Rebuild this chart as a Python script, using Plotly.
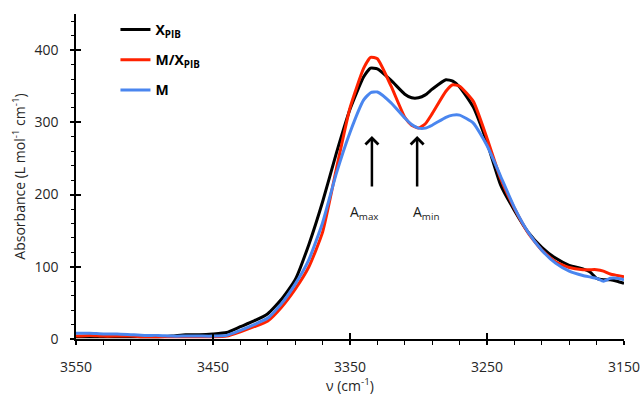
import plotly.graph_objects as go

# Wavenumber grid (cm^-1) and absorbance (L mol^-1 cm^-1) for each sample
wavenumber = [3550, 3540, 3530, 3520, 3510, 3500, 3490, 3480, 3470, 3460,
              3450, 3440, 3430, 3420, 3410, 3400, 3390, 3380, 3370, 3360,
              3350, 3340, 3335, 3330, 3320, 3310, 3305, 3300, 3295, 3290,
              3280, 3275, 3270, 3260, 3250, 3240, 3230, 3220, 3210, 3200,
              3190, 3180, 3175, 3170, 3165, 3160, 3155, 3150]

absorb_x_pib = [3, 3, 3, 3, 3, 3, 3, 4, 6, 6,
                7, 9, 17, 25, 35, 55, 82, 131, 190, 257,
                318, 363, 375, 374, 358, 339, 334, 334, 338, 346,
                359, 357, 349, 321, 272, 213, 178, 148, 127, 112,
                102, 97, 93, 84, 82, 82, 80, 77]

absorb_m_x_pib = [4, 5, 4, 4, 4, 3, 3, 3, 3, 3,
                  3, 4, 10, 17, 25, 44, 69, 100, 148, 235,
                  320, 375, 390, 388, 350, 307, 296, 292, 298, 312,
                  343, 352, 350, 329, 278, 222, 181, 147, 123, 107,
                  99, 96, 96, 96, 94, 90, 88, 86]

absorb_m = [8, 8, 7, 7, 6, 5, 5, 4, 4, 4,
            4, 5, 12, 20, 29, 49, 76, 110, 161, 229,
            286, 331, 341, 342, 327, 306, 297, 292, 292, 296,
            307, 310, 310, 299, 268, 225, 182, 148, 123, 105,
            94, 88, 86, 84, 80, 84, 84, 82]

x_ticks = [3550, 3450, 3350, 3250, 3150]
y_ticks = [0, 100, 200, 300, 400]

# Band positions marked with arrows
nu_amax = 3334
nu_amin = 3301

series = [
    ("<b>X<sub>PIB</sub></b>", absorb_x_pib, "#000000", "g1"),
    ("<b>M/X<sub>PIB</sub></b>", absorb_m_x_pib, "#ff2200", "g2"),
    ("<b>M</b>", absorb_m, "#4a86ef", "g3"),
]

fig = go.Figure()
for name, vals, color, grp in series:
    fig.add_trace(go.Scatter(
        x=wavenumber, y=vals, mode="lines", name=name, legendgroup=grp,
        line=dict(color=color, width=3, shape="spline", smoothing=0.5),
    ))

# empty trace so the overlay axes (inner half of the major ticks) get drawn
fig.add_trace(go.Scatter(x=[], y=[], xaxis="x2", yaxis="y2",
                         showlegend=False, hoverinfo="skip"))

text_color = "#262626"
tick_font = dict(family="Open Sans", size=14, color=text_color)
title_font = dict(family="Open Sans", size=14, color=text_color)

fig.update_layout(
    width=641, height=395,
    margin=dict(l=76, r=17, t=14, b=56),
    paper_bgcolor="white", plot_bgcolor="white",
    font=dict(family="Open Sans", color=text_color),
    showlegend=True,
    legend=dict(x=0.072, y=1.0, xanchor="left", yanchor="top",
                bgcolor="rgba(0,0,0,0)", tracegroupgap=9,
                font=dict(family="Open Sans", size=14, color="#000000")),
    xaxis=dict(
        range=[3550, 3150], tickvals=x_ticks, showgrid=False, zeroline=False,
        automargin=False,
        showline=True, linecolor="#000000", linewidth=1.5,
        ticks="outside", ticklen=4, tickwidth=1.5, tickcolor="#000000",
        minor=dict(dtick=20, tick0=3150, ticks="outside", ticklen=4,
                   tickwidth=1, tickcolor="#000000"),
        tickfont=tick_font, ticklabelstandoff=10,
        title=dict(text="\u03bd (cm<sup>-1</sup>)", font=title_font,
                   standoff=8),
    ),
    yaxis=dict(
        range=[0, 450], tickvals=y_ticks, showgrid=False, zeroline=False,
        automargin=False,
        showline=True, linecolor="#000000", linewidth=1.5,
        ticks="outside", ticklen=4, tickwidth=1.5, tickcolor="#000000",
        minor=dict(dtick=20, ticks="outside", ticklen=3,
                   tickwidth=1, tickcolor="#000000"),
        tickfont=tick_font, ticklabelstandoff=9,
        title=dict(text="Absorbance (L mol<sup>-1</sup> cm<sup>-1</sup>)",
                   font=title_font, standoff=6),
    ),
    xaxis2=dict(range=[3550, 3150], overlaying="x", anchor="y2",
                automargin=False,
                tickvals=x_ticks, showticklabels=False, showgrid=False,
                zeroline=False, showline=False, ticks="inside", ticklen=6,
                tickwidth=1.5, tickcolor="#000000"),
    yaxis2=dict(range=[0, 450], overlaying="y", anchor="x2",
                automargin=False,
                tickvals=y_ticks, showticklabels=False, showgrid=False,
                zeroline=False, showline=False, ticks="inside", ticklen=5,
                tickwidth=1.5, tickcolor="#000000"),
)

for nu in (nu_amax, nu_amin):
    fig.add_annotation(x=nu, y=281, ax=nu, ay=209, xref="x", yref="y",
                       axref="x", ayref="y", text="", showarrow=True,
                       arrowhead=4, arrowsize=1, arrowwidth=2.5,
                       arrowcolor="#000000", standoff=0)

label_font = dict(family="Open Sans", size=14, color="#1a1a1a")
fig.add_annotation(x=nu_amax + 5.5, y=175, text="A<sub>max</sub>",
                   showarrow=False, font=label_font)
fig.add_annotation(x=nu_amin - 6.5, y=175, text="A<sub>min</sub>",
                   showarrow=False, font=label_font)

fig.write_html("out.html")
